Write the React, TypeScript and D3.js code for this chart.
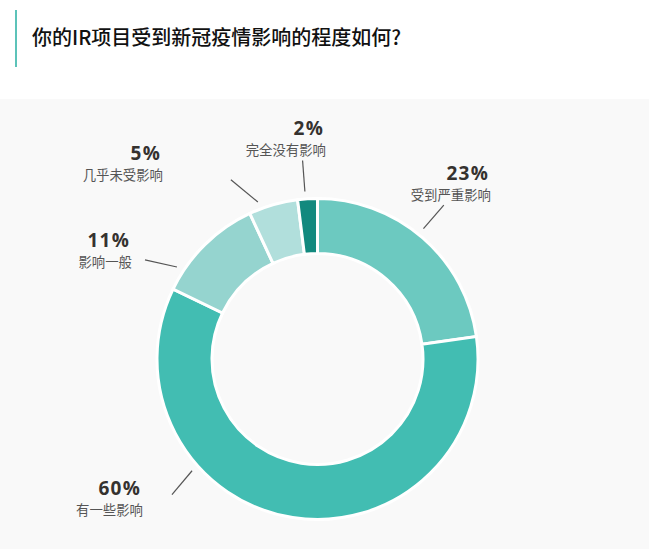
import { useMemo } from "react";
import * as d3 from "d3";

/* ------------------------------------------------------------------ */
/*  Data                                                              */
/* ------------------------------------------------------------------ */

const title = "你的IR项目受到新冠疫情影响的程度如何?";

const categories = ["受到严重影响", "有一些影响", "影响一般", "几乎未受影响", "完全没有影响"];
const shares = [23, 60, 11, 5, 2];
const sliceColors = ["#6cc9c0", "#42bdb2", "#95d4cf", "#b1dfdc", "#12897e"];

// Leader line angles (deg, clockwise from 12 o'clock): [outer end, inner end]
const leaderAngles: [number, number][] = [
  [39.4, 39.1],
  [227, 228.3],
  [-60.1, -56.8],
  [-25.8, -20.8],
  [-4.3, -4.3],
];
// Label anchor (right edge, baseline of the percent) relative to the pie centre
const labelOffsets: [number, number][] = [
  [173.5, -179],
  [-174.5, 136],
  [-185.5, -112],
  [-154.5, -199],
  [8.5, -224],
];

/* ------------------------------------------------------------------ */
/*  Layout                                                            */
/* ------------------------------------------------------------------ */

const W = 649;
const H = 549;
const CX = 317.5;
const CY = 359;
const R_OUTER = 160.5;
const R_INNER = 105.5;
const LINE_R1 = 199;
const LINE_R2 = 168;

const polar = (deg: number, r: number): [number, number] => {
  const a = (deg * Math.PI) / 180;
  return [r * Math.sin(a), -r * Math.cos(a)];
};

export default function App() {
  const arcs = useMemo(() => {
    const pie = d3
      .pie<number>()
      .sort(null)
      .value((d) => d);
    return pie(shares);
  }, []);

  const arcGen = d3.arc<d3.PieArcDatum<number>>().innerRadius(R_INNER).outerRadius(R_OUTER);

  return (
    <div style={{ position: "fixed", left: 0, top: 0, width: W, height: H }}>
      <svg width={W} height={H} viewBox={`0 0 ${W} ${H}`} style={{ display: "block" }}>
        <rect x={0} y={0} width={W} height={H} fill="#ffffff" />
        <rect x={0} y={99} width={W} height={H - 99} fill="#f9f9f9" />

        {/* title */}
        <rect x={15} y={10} width={2} height={57} fill="#5cc3b9" />
        <text
          x={32}
          y={45}
          fontFamily="'Noto Sans CJK SC', sans-serif"
          fontSize={20}
          fontWeight={500}
          fill="#111"
        >
          {title}
        </text>

        <g transform={`translate(${CX},${CY})`}>
          {arcs.map((a, i) => (
            <path
              key={categories[i]}
              d={arcGen(a) ?? ""}
              fill={sliceColors[i]}
              stroke="#ffffff"
              strokeWidth={3}
              strokeLinejoin="miter"
            />
          ))}

          {arcs.map((a, i) => {
            const [p1x, p1y] = polar(leaderAngles[i][0], LINE_R1);
            const [p2x, p2y] = polar(leaderAngles[i][1], LINE_R2);
            const [lx, ly] = labelOffsets[i];
            return (
              <g key={`lab-${categories[i]}`}>
                <line x1={p1x} y1={p1y} x2={p2x} y2={p2y} stroke="#555" strokeWidth={1.2} />
                <text
                  x={lx - 2}
                  y={ly}
                  textAnchor="end"
                  fontFamily="'Open Sans', sans-serif"
                  fontWeight={700}
                  fontSize={19}
                  letterSpacing={1.2}
                  fill="#35322f"
                >
                  {`${a.data}%`}
                </text>
                <text
                  x={lx}
                  y={ly + 20}
                  textAnchor="end"
                  fontFamily="'Noto Sans CJK SC', sans-serif"
                  fontSize={13.4}
                  fill="#555"
                >
                  {categories[i]}
                </text>
              </g>
            );
          })}
        </g>
      </svg>
    </div>
  );
}
